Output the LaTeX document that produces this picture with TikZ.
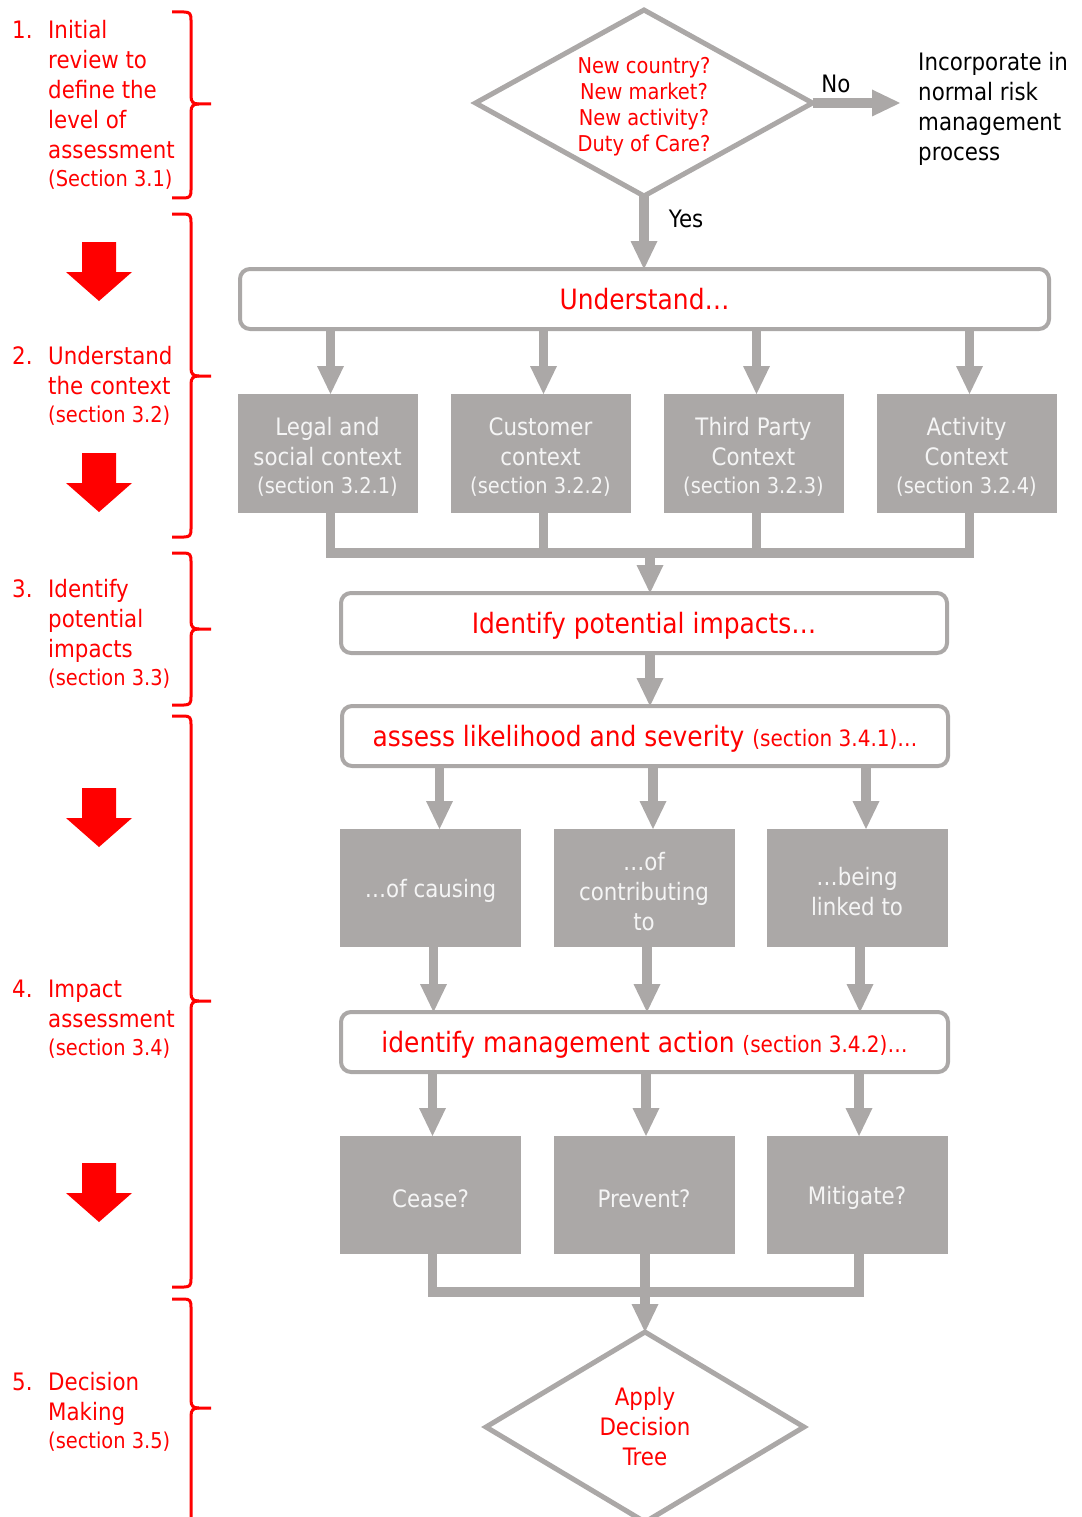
\documentclass[tikz,border=0pt]{standalone}
\usepackage{fontspec}
\setmainfont{DejaVu Sans}[FakeStretch=0.89]
\usetikzlibrary{shapes.geometric,arrows.meta}
\definecolor{lgray}{RGB}{171,168,167}
\definecolor{boxtext}{RGB}{245,245,245}
\newcommand{\smallsec}{\fontsize{21.8}{26}\selectfont}
\newcommand{\headsec}{\fontsize{22.5}{26}\selectfont}
\newcommand{\tup}{\rule{0pt}{24.5pt}}
\newcommand{\dup}{\rule{0pt}{22.6pt}}
\newcommand{\sidebrace}[3]{%
  \draw[bracestyle] (172,#1) -- (184,#1) .. controls (190,#1) and (191,#1+2) .. (191,#1+8) -- (191,#2-8) .. controls (191,#2-2) and (193,#2) .. (199,#2) -- (211,#2);
  \draw[bracestyle] (199,#2) .. controls (193,#2) and (191,#2+2) .. (191,#2+8) -- (191,#3-8) .. controls (191,#3-2) and (190,#3) .. (184,#3) -- (172,#3);}
\newcommand{\redarrow}[1]{%
  \fill[red] (82,#1) -- (116,#1) -- (116,#1+30) -- (132,#1+30) -- (99,#1+59) -- (66,#1+30) -- (82,#1+30) -- cycle;}
\begin{document}
\begin{tikzpicture}[x=1pt,y=-1pt,
  conn/.style={draw=lgray,line width=9.5pt,line join=miter},
  arr/.style={conn,-{Triangle[length=28pt,width=27pt,line width=0pt]}},
  hbox/.style={draw=lgray,line width=4pt,rounded corners=10pt,fill=white,text=red,font=\fontsize{28}{34}\selectfont,minimum height=60pt,inner sep=0pt,outer sep=0pt,text height=21pt,text depth=0pt},
  gbox/.style={fill=lgray,text=boxtext,font=\fontsize{24}{30}\selectfont,align=center,minimum width=181pt,minimum height=119pt,inner sep=0pt,outer sep=0pt},
  dia/.style={diamond,draw=lgray,line width=5pt,fill=white,text=red,align=center,inner sep=0pt,outer sep=0pt},
  lab/.style={font=\fontsize{24}{30}\selectfont,text=black,inner sep=0pt},
  ltext/.style={font=\fontsize{24}{30}\selectfont,text=red,inner sep=0pt,anchor=north west},
  bracestyle/.style={draw=red,line width=3pt}
]
\useasboundingbox (0,0) rectangle (1081,1517);

% ---- left column ----
\node[ltext] (s1) at (12,17) {\begin{tabular}{@{}p{36pt}@{}l@{}}1.&Initial\\&review to\\&define the\\&level of\\&assessment\\[-2pt]&\smallsec (Section 3.1)\end{tabular}};
\node[ltext] (s2) at (12,343) {\begin{tabular}{@{}p{36pt}@{}l@{}}2.&Understand\\&the context\\[-2pt]&\smallsec (section 3.2)\end{tabular}};
\node[ltext] (s3) at (12,576) {\begin{tabular}{@{}p{36pt}@{}l@{}}3.&Identify\\&potential\\&impacts\\[-2pt]&\smallsec (section 3.3)\end{tabular}};
\node[ltext] (s4) at (12,976) {\begin{tabular}{@{}p{36pt}@{}l@{}}4.&Impact\\&assessment\\[-2pt]&\smallsec (section 3.4)\end{tabular}};
\node[ltext] (s5) at (12,1369) {\begin{tabular}{@{}p{36pt}@{}l@{}}5.&Decision\\&Making\\[-2pt]&\smallsec (section 3.5)\end{tabular}};

\sidebrace{12}{104}{198}
\sidebrace{214}{376}{537}
\sidebrace{553}{629}{705}
\sidebrace{716}{1001}{1287}
\sidebrace{1299}{1408}{1530}

\redarrow{242}
\redarrow{453}
\redarrow{788}
\redarrow{1163}

% ---- top decision ----
\node[dia,aspect=1.81,font=\fontsize{21.8}{26}\selectfont,minimum width=337pt,minimum height=186pt] (q) at (644,103) {\dup New country?\\New market?\\New activity?\\Duty of Care?};
\coordinate (noend) at (900,103);
\node[lab,anchor=north west] (inc) at (918,49) {\begin{tabular}{@{}l@{}}Incorporate in\\normal risk\\management\\process\end{tabular}};
\draw[arr] (q.east) -- (noend);
\node[lab] (no) at (836,84) {No};

\node[hbox,minimum width=809pt] (und) at (644.5,299) {Understand…};
\draw[arr] (q.south) -- (q.south |- und.north);
\node[lab] (yes) at (686,219) {Yes};

% ---- context boxes ----
\node[gbox,minimum width=180pt] (leg) at (327.5,453.5) {\tup Legal and\\social context\\[-2pt]{\smallsec (section 3.2.1)}};
\node[gbox,minimum width=180pt] (cus) at (540.5,453.5) {\tup Customer\\context\\[-2pt]{\smallsec (section 3.2.2)}};
\node[gbox,minimum width=180pt] (thi) at (753.5,453.5) {\tup Third Party\\Context\\[-2pt]{\smallsec (section 3.2.3)}};
\node[gbox,minimum width=180pt] (act) at (966.5,453.5) {\tup Activity\\Context\\[-2pt]{\smallsec (section 3.2.4)}};
\foreach \b in {leg,cus,thi,act}{
  \draw[arr] ([xshift=3pt]\b.north |- und.south) -- ([xshift=3pt]\b.north);
}

\coordinate (m1) at (650,553);
\node[hbox,minimum width=606pt] (idn) at (644,623) {Identify potential impacts…};
\draw[conn] ([xshift=3pt]leg.south) |- ([xshift=3pt]act.south |- m1) -- ([xshift=3pt]act.south);
\draw[conn] ([xshift=3pt]cus.south) -- ([xshift=3pt]cus.south |- m1);
\draw[conn] ([xshift=3pt]thi.south) -- ([xshift=3pt]thi.south |- m1);
\draw[arr] (m1) -- (m1 |- idn.north);

% ---- assessment ----
\node[hbox,minimum width=606pt] (ass) at (645,736) {assess likelihood and severity {\headsec (section 3.4.1)…}};
\draw[arr] (m1 |- idn.south) -- (m1 |- ass.north);

\node[gbox,minimum height=118pt] (b1) at (430.5,888) {\tup …of causing};
\node[gbox,minimum height=118pt] (b2) at (644,888) {\tup …of\\contributing\\to};
\node[gbox,minimum height=118pt] (b3) at (857,888) {\tup …being\\linked to};
\foreach \b in {b1,b2,b3}{
  \draw[arr] ([xshift=9pt]\b.north |- ass.south) -- ([xshift=9pt]\b.north);
}

\node[hbox,minimum width=607pt] (mgt) at (644.5,1042) {identify management action {\headsec (section 3.4.2)…}};
\foreach \b in {b1,b2,b3}{
  \draw[arr] ([xshift=3pt]\b.south) -- ([xshift=3pt]\b.south |- mgt.north);
}

\node[gbox,minimum height=118pt] (c1) at (430.5,1195) {\tup Cease?};
\node[gbox,minimum height=118pt] (c2) at (644,1195) {\tup Prevent?};
\node[gbox,minimum height=118pt] (c3) at (857,1195) {\tup Mitigate?};
\foreach \b in {c1,c2,c3}{
  \draw[arr] ([xshift=2pt]\b.north |- mgt.south) -- ([xshift=2pt]\b.north);
}

% ---- decision ----
\coordinate (m2) at (645,1292);
\node[dia,aspect=1.67,font=\fontsize{24}{30}\selectfont,minimum width=318pt,minimum height=190pt] (dt) at (645,1427) {Apply\\Decision\\Tree};
\draw[conn] ([xshift=2pt]c1.south) |- ([xshift=2pt]c3.south |- m2) -- ([xshift=2pt]c3.south);
\draw[conn] ([xshift=1pt]c2.south) -- ([xshift=1pt]c2.south |- m2);
\draw[arr] (m2) -- (dt.north);
\end{tikzpicture}
\end{document}
